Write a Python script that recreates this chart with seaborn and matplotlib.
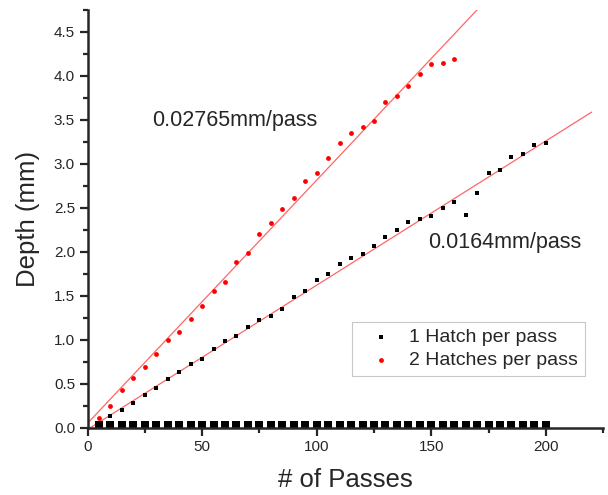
import numpy as np
import pandas as pd
import matplotlib
matplotlib.use("Agg")
import matplotlib.pyplot as plt
from matplotlib.ticker import MultipleLocator
import seaborn as sns

# ---- data ----
passes_1 = [5, 10, 15, 20, 25, 30, 35, 40, 45, 50, 55, 60, 65, 70, 75, 80, 85, 90, 95, 100,
            105, 110, 115, 120, 125, 130, 135, 140, 145, 150, 155, 160, 165, 170, 175, 180,
            185, 190, 195, 200]
depth_1 = [0.05, 0.13, 0.20, 0.28, 0.37, 0.45, 0.55, 0.63, 0.72, 0.78, 0.90, 0.98, 1.04, 1.15,
           1.22, 1.27, 1.35, 1.49, 1.55, 1.68, 1.75, 1.86, 1.93, 1.98, 2.07, 2.17, 2.25, 2.34,
           2.37, 2.41, 2.50, 2.57, 2.42, 2.67, 2.89, 2.93, 3.08, 3.11, 3.21, 3.24]

passes_2 = [5, 10, 15, 20, 25, 30, 35, 40, 45, 50, 55, 60, 65, 70, 75, 80, 85, 90, 95, 100,
            105, 110, 115, 120, 125, 130, 135, 140, 145, 150, 155, 160]
depth_2 = [0.11, 0.25, 0.43, 0.56, 0.69, 0.84, 1.00, 1.09, 1.24, 1.38, 1.55, 1.66, 1.88, 1.99,
           2.20, 2.33, 2.49, 2.61, 2.80, 2.89, 3.07, 3.24, 3.35, 3.42, 3.49, 3.70, 3.77, 3.88,
           4.02, 4.13, 4.15, 4.19]

# row of big squares sitting on the x axis
base_x = passes_1
base_y = [0.035] * len(passes_1)

# linear fits shown in the chart
fit_slope = [0.0164, 0.02765]
fit_icpt = [-0.02, 0.05]
fit_text = ["0.0164mm/pass", "0.02765mm/pass"]
labels = ["1 Hatch per pass", "2 Hatches per pass"]

sns.set_style("ticks")
plt.rcParams["font.family"] = ["Liberation Sans", "DejaVu Sans"]

fig = plt.figure(figsize=(6.08, 4.95), dpi=100)
ax = fig.add_axes([0.144, 0.136, 0.848, 0.844])

df1 = pd.DataFrame({"x": passes_1, "y": depth_1})
df2 = pd.DataFrame({"x": passes_2, "y": depth_2})
dfb = pd.DataFrame({"x": base_x, "y": base_y})

# fit lines
xfit = np.array([0, 220])
for m, b in zip(fit_slope, fit_icpt):
    ax.plot(xfit, m * xfit + b, color="#ff6666", lw=0.9, zorder=1)

sns.scatterplot(data=dfb, x="x", y="y", marker="s", s=36, color="black",
                linewidth=0, ax=ax, zorder=2, clip_on=False)
sns.scatterplot(data=df1, x="x", y="y", marker="s", s=9, color="black",
                linewidth=0, ax=ax, label=labels[0], zorder=3)
sns.scatterplot(data=df2, x="x", y="y", marker="o", s=12, color="red",
                linewidth=0, ax=ax, label=labels[1], zorder=3)

ax.text(28, 3.49, fit_text[1], fontsize=15.5, ha="left", va="center")
ax.text(148.5, 2.11, fit_text[0], fontsize=15.5, ha="left", va="center")

ax.set_xlim(0, 225)
ax.set_ylim(0, 4.75)
ax.xaxis.set_major_locator(MultipleLocator(50))
ax.xaxis.set_minor_locator(MultipleLocator(25))
ax.yaxis.set_major_locator(MultipleLocator(0.5))
ax.yaxis.set_minor_locator(MultipleLocator(0.25))
ax.set_yticks(np.arange(0, 4.51, 0.5))
ax.set_yticklabels([f"{v:.1f}" for v in np.arange(0, 4.51, 0.5)])

ax.tick_params(which="major", direction="out", length=6, width=1.6, labelsize=11, pad=3)
ax.tick_params(which="minor", direction="out", length=3.5, width=1.6)
for s in ["left", "bottom"]:
    ax.spines[s].set_linewidth(1.8)
sns.despine(ax=ax)

ax.set_xlabel("# of Passes", fontsize=18.5, labelpad=10)
ax.set_ylabel("Depth (mm)", fontsize=18.5, labelpad=10)

leg = ax.legend(loc="upper left", bbox_to_anchor=(0.513, 0.254), borderaxespad=0,
                fontsize=14, frameon=True, fancybox=False, handletextpad=0.35,
                markerscale=1.0, borderpad=0.35, labelspacing=0.3, handlelength=2.25)
leg.get_frame().set_edgecolor("#bbbbbb")
leg.get_frame().set_linewidth(0.8)

fig.savefig("out.png", dpi=100)
